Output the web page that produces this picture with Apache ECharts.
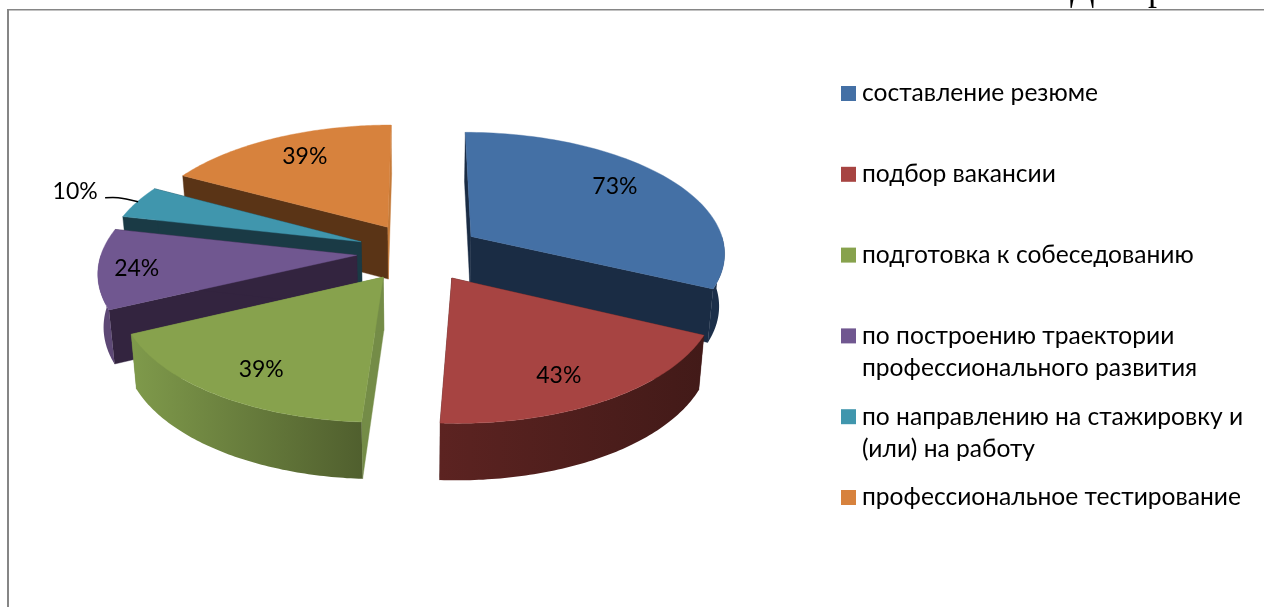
<!DOCTYPE html>
<html><head><meta charset="utf-8">
<style>html,body{margin:0;padding:0;background:#fff}#c{width:1264px;height:607px}</style>
<script src="https://cdn.jsdelivr.net/npm/echarts@6/dist/echarts.min.js"></script>
</head><body><div id="c"></div>
<script>
// ---- data ----
const names = ['составление резюме','подбор вакансии','подготовка к собеседованию',
  'по построению траектории\nпрофессионального развития','по направлению на стажировку и\n(или) на работу','профессиональное тестирование'];
const values = [73,43,39,24,10,39];

// ---- styles ----
const topColors  = ['#4470A5','#A74442','#87A24D','#705790','#4096AD','#D7823D'];
const wallLeft   = ['#1c2f49','#5c2321','#7f9a4b','#5d4875','#2f6f80','#a8622c'];
const wallRight  = ['#1c2f49','#421a18','#505f2e','#5d4875','#2f6f80','#a8622c'];
const startFace  = ['#1a2c44','#421a18','#748c47','#33243f','#1a3a45','#5a3416'];
const endFace    = ['#1a2c44','#421a18','#748c47','#33243f','#1a3a45','#c47a38'];
const paintOrder = [2,6,8,4,3,1];           // back-to-front stacking of the slices
const labelOffset = [[144,-50],[107,98],[-122,92],[-220,13],[-286,-50],[-83,-71]]; // from slice apex
const FONT = 'Lato, "Noto Sans", sans-serif';

// ---- projection of the exploded 3D pie ----
const cx=419, cy=252, A=255, B=120.5, K=0.123, H=52.5, EXPLODE=0.245;
const total = values.reduce((a,b)=>a+b,0);
const starts = values.map((_,i)=>values.slice(0,i).reduce((a,b)=>a+b,0)/total*Math.PI*2);
const ends   = values.map((_,i)=>values.slice(0,i+1).reduce((a,b)=>a+b,0)/total*Math.PI*2);

function project(X,Y,bottom){
  const w=1+K*Y; let x=cx+A*X/w, y=cy-B*Y/w;
  if(bottom){ x=cx+(x-cx)*0.982; y+=H/(1+0.065*Y); }
  return [x,y];
}
function renderSlice(i){
  const a0=starts[i], a1=ends[i], mid=(a0+a1)/2;
  const ox=EXPLODE*Math.sin(mid), oy=EXPLODE*Math.cos(mid);
  const pt=(t,r,b)=>project(ox+r*Math.sin(t),oy+r*Math.cos(t),b);
  const arc=[]; const N=80;
  for(let k=0;k<=N;k++){arc.push(pt(a0+(a1-a0)*k/N,1,false));}
  // outer wall only where the rim faces the viewer
  const w0=Math.max(a0,Math.PI/2), w1=Math.min(a1,Math.PI*1.5);
  const wallTop=[],wallBot=[];
  if(w1>w0) for(let k=0;k<=N;k++){const t=w0+(w1-w0)*k/N; wallTop.push(pt(t,1,false)); wallBot.push(pt(t,1,true));}
  const apex=pt(0,0,false), apexB=pt(0,0,true);
  const poly=(points,fill,z2)=>({type:'polygon',shape:{points},z2,style:{fill,stroke:typeof fill==='string'?fill:null,lineWidth:0.4}});
  const children=[
    poly([apex,arc[0],pt(a0,1,true),apexB],startFace[i],1),
    poly([apex,arc[N],pt(a1,1,true),apexB],endFace[i],1),
    poly([apex].concat(arc),topColors[i],3)
  ];
  if(wallTop.length){
    const wallFill=new echarts.graphic.LinearGradient(0,0,1,0,[{offset:0,color:wallLeft[i]},{offset:1,color:wallRight[i]}]);
    children.push(poly(wallTop.concat(wallBot.reverse()),wallFill,2));
  }
  const lx=apex[0]+labelOffset[i][0], ly=apex[1]+labelOffset[i][1];
  children.push({type:'text',z2:5,style:{text:values[i]+'%',x:lx,y:ly,align:'center',verticalAlign:'middle',font:'23px '+FONT,fill:'#000'}});
  if(values[i]===Math.min(...values)){
    children.push({type:'polyline',z2:5,shape:{points:[[lx+30,ly+6],[lx+43,ly+6],[lx+63,ly+10]],smooth:0.3},style:{stroke:'#000',lineWidth:1.5,fill:null}});
  }
  return {type:'group',children};
}

const legendTop=79, legendPitch=80.8, legendX=841, legendFont='24.6px '+FONT;
const extraLines=[];
names.forEach((n,i)=>{const p=n.split('\n'); if(p[1]) extraLines.push({
  type:'text',left:legendX+21,top:legendTop+i*legendPitch+34,style:{text:p[1],font:legendFont,fill:'#000'}});});

const chart=echarts.init(document.getElementById('c'),null,{renderer:'canvas'});
chart.setOption({
  animation:false,
  backgroundColor:'#fff',
  legend:{orient:'vertical',left:legendX,top:legendTop,itemWidth:15,itemHeight:15,itemGap:80.8-29,icon:'rect',
    selectedMode:false,data:names,formatter:n=>n.split('\n')[0],
    textStyle:{fontFamily:FONT,fontSize:24.6,color:'#000',height:29,lineHeight:29,padding:[0,0,0,1]},padding:0},
  graphic:[
    {type:'rect',shape:{x:7,y:10,width:2,height:597},style:{fill:'#868686'},silent:true},
    {type:'rect',shape:{x:7,y:9,width:1257,height:1.6},style:{fill:'#868686'},silent:true},
    {type:'text',left:1070,top:-27,style:{text:'Д',font:'36px "Liberation Serif"',fill:'#000'}},
    {type:'text',left:1148,top:-27,style:{text:'р',font:'36px "Liberation Serif"',fill:'#000'}}
  ].concat(extraLines),
  series:names.map((name,i)=>({
    type:'custom',name,coordinateSystem:'none',z:paintOrder[i],silent:true,
    itemStyle:{color:topColors[i]},data:[values[i]],
    renderItem:()=>renderSlice(i)
  }))
});
</script></body></html>
